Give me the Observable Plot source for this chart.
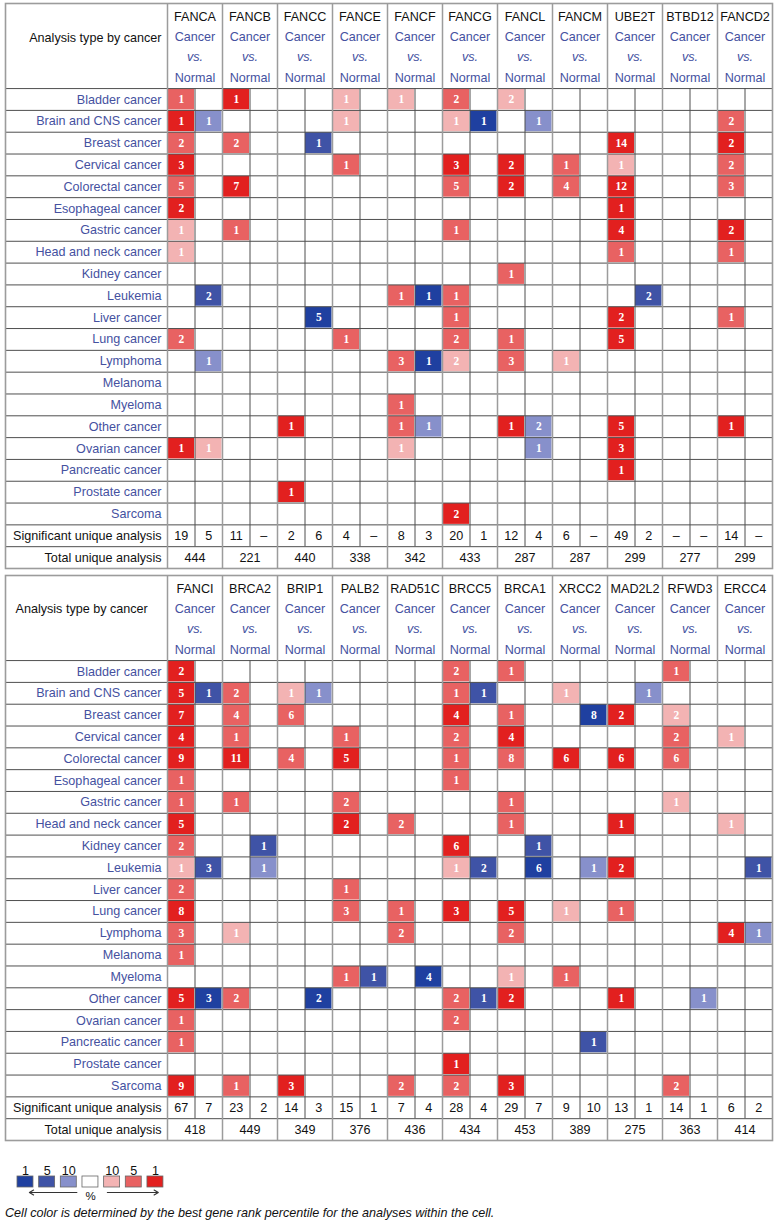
<!DOCTYPE html>
<html>
<head>
<meta charset="utf-8">
<script src="https://cdn.jsdelivr.net/npm/d3@7"></script>
<script src="https://cdn.jsdelivr.net/npm/@observablehq/plot@0.6"></script>
<style>
  body { margin: 0; background: #fff; }
  svg { display: block; }
  #caption { font-family: "Liberation Sans", Arial, sans-serif; font-style: italic; font-size: 12.6px; line-height: 14px; padding-left: 5px; color: #111; }
</style>
</head>
<body>
<div id="chart"></div>
<div id="caption">Cell color is determined by the best gene rank percentile for the analyses within the cell.</div>
<script>
// ---------------- DATA ----------------
const cancers = ["Bladder cancer","Brain and CNS cancer","Breast cancer","Cervical cancer","Colorectal cancer",
  "Esophageal cancer","Gastric cancer","Head and neck cancer","Kidney cancer","Leukemia","Liver cancer",
  "Lung cancer","Lymphoma","Melanoma","Myeloma","Other cancer","Ovarian cancer","Pancreatic cancer",
  "Prostate cancer","Sarcoma"];

const colorKeys = ["b1","b5","b10","w","r10","r5","r1"];
const colorValues = ["#1f40a0","#3f53a6","#8790cb","#ffffff","#f3b3b3","#e86262","#e2201f"];
const legendLabels = ["1","5","10","","10","5","1"];

const topGenes = ["FANCA","FANCB","FANCC","FANCE","FANCF","FANCG","FANCL","FANCM","UBE2T","BTBD12","FANCD2"];
const topSignificant = [[19,5],[11,null],[2,6],[4,null],[8,3],[20,1],[12,4],[6,null],[49,2],[null,null],[14,null]];
const topTotal = [444,221,440,338,342,433,287,287,299,277,299];
// [gene, side (0 = over, 1 = under), cancer, analyses, colour key]
const topCells = [
  ["FANCA",0,"Bladder cancer",1,"r5"],["FANCA",0,"Brain and CNS cancer",1,"r1"],["FANCA",1,"Brain and CNS cancer",1,"b10"],
  ["FANCA",0,"Breast cancer",2,"r5"],["FANCA",0,"Cervical cancer",3,"r1"],["FANCA",0,"Colorectal cancer",5,"r5"],
  ["FANCA",0,"Esophageal cancer",2,"r1"],["FANCA",0,"Gastric cancer",1,"r10"],["FANCA",0,"Head and neck cancer",1,"r10"],
  ["FANCA",1,"Leukemia",2,"b5"],["FANCA",0,"Lung cancer",2,"r5"],["FANCA",1,"Lymphoma",1,"b10"],
  ["FANCA",0,"Ovarian cancer",1,"r1"],["FANCA",1,"Ovarian cancer",1,"r10"],
  ["FANCB",0,"Bladder cancer",1,"r1"],["FANCB",0,"Breast cancer",2,"r5"],["FANCB",0,"Colorectal cancer",7,"r1"],
  ["FANCB",0,"Gastric cancer",1,"r5"],
  ["FANCC",1,"Breast cancer",1,"b5"],["FANCC",1,"Liver cancer",5,"b1"],["FANCC",0,"Other cancer",1,"r1"],
  ["FANCC",0,"Prostate cancer",1,"r1"],
  ["FANCE",0,"Bladder cancer",1,"r10"],["FANCE",0,"Brain and CNS cancer",1,"r10"],["FANCE",0,"Cervical cancer",1,"r5"],
  ["FANCE",0,"Lung cancer",1,"r5"],
  ["FANCF",0,"Bladder cancer",1,"r10"],["FANCF",0,"Leukemia",1,"r5"],["FANCF",1,"Leukemia",1,"b1"],
  ["FANCF",0,"Lymphoma",3,"r5"],["FANCF",1,"Lymphoma",1,"b1"],["FANCF",0,"Myeloma",1,"r5"],
  ["FANCF",0,"Other cancer",1,"r5"],["FANCF",1,"Other cancer",1,"b10"],["FANCF",0,"Ovarian cancer",1,"r10"],
  ["FANCG",0,"Bladder cancer",2,"r5"],["FANCG",0,"Brain and CNS cancer",1,"r10"],["FANCG",1,"Brain and CNS cancer",1,"b1"],
  ["FANCG",0,"Cervical cancer",3,"r1"],["FANCG",0,"Colorectal cancer",5,"r5"],["FANCG",0,"Gastric cancer",1,"r5"],
  ["FANCG",0,"Leukemia",1,"r5"],["FANCG",0,"Liver cancer",1,"r5"],["FANCG",0,"Lung cancer",2,"r5"],
  ["FANCG",0,"Lymphoma",2,"r10"],["FANCG",0,"Sarcoma",2,"r1"],
  ["FANCL",0,"Bladder cancer",2,"r10"],["FANCL",1,"Brain and CNS cancer",1,"b10"],["FANCL",0,"Cervical cancer",2,"r1"],
  ["FANCL",0,"Colorectal cancer",2,"r1"],["FANCL",0,"Kidney cancer",1,"r5"],["FANCL",0,"Lung cancer",1,"r5"],
  ["FANCL",0,"Lymphoma",3,"r5"],["FANCL",0,"Other cancer",1,"r1"],["FANCL",1,"Other cancer",2,"b10"],
  ["FANCL",1,"Ovarian cancer",1,"b10"],
  ["FANCM",0,"Cervical cancer",1,"r5"],["FANCM",0,"Colorectal cancer",4,"r5"],["FANCM",0,"Lymphoma",1,"r10"],
  ["UBE2T",0,"Breast cancer",14,"r1"],["UBE2T",0,"Cervical cancer",1,"r10"],["UBE2T",0,"Colorectal cancer",12,"r1"],
  ["UBE2T",0,"Esophageal cancer",1,"r1"],["UBE2T",0,"Gastric cancer",4,"r1"],["UBE2T",0,"Head and neck cancer",1,"r5"],
  ["UBE2T",1,"Leukemia",2,"b5"],["UBE2T",0,"Liver cancer",2,"r1"],["UBE2T",0,"Lung cancer",5,"r1"],
  ["UBE2T",0,"Other cancer",5,"r1"],["UBE2T",0,"Ovarian cancer",3,"r1"],["UBE2T",0,"Pancreatic cancer",1,"r1"],
  ["FANCD2",0,"Brain and CNS cancer",2,"r5"],["FANCD2",0,"Breast cancer",2,"r1"],["FANCD2",0,"Cervical cancer",2,"r5"],
  ["FANCD2",0,"Colorectal cancer",3,"r5"],["FANCD2",0,"Gastric cancer",2,"r1"],["FANCD2",0,"Head and neck cancer",1,"r5"],
  ["FANCD2",0,"Liver cancer",1,"r5"],["FANCD2",0,"Other cancer",1,"r1"]
];

const bottomGenes = ["FANCI","BRCA2","BRIP1","PALB2","RAD51C","BRCC5","BRCA1","XRCC2","MAD2L2","RFWD3","ERCC4"];
const bottomSignificant = [[67,7],[23,2],[14,3],[15,1],[7,4],[28,4],[29,7],[9,10],[13,1],[14,1],[6,2]];
const bottomTotal = [418,449,349,376,436,434,453,389,275,363,414];
const bottomCells = [
  ["FANCI",0,"Bladder cancer",2,"r1"],["FANCI",0,"Brain and CNS cancer",5,"r1"],["FANCI",1,"Brain and CNS cancer",1,"b5"],
  ["FANCI",0,"Breast cancer",7,"r1"],["FANCI",0,"Cervical cancer",4,"r1"],["FANCI",0,"Colorectal cancer",9,"r1"],
  ["FANCI",0,"Esophageal cancer",1,"r5"],["FANCI",0,"Gastric cancer",1,"r5"],["FANCI",0,"Head and neck cancer",5,"r1"],
  ["FANCI",0,"Kidney cancer",2,"r5"],["FANCI",0,"Leukemia",1,"r10"],["FANCI",1,"Leukemia",3,"b5"],
  ["FANCI",0,"Liver cancer",2,"r5"],["FANCI",0,"Lung cancer",8,"r1"],["FANCI",0,"Lymphoma",3,"r5"],
  ["FANCI",0,"Melanoma",1,"r5"],["FANCI",0,"Other cancer",5,"r1"],["FANCI",1,"Other cancer",3,"b1"],
  ["FANCI",0,"Ovarian cancer",1,"r5"],["FANCI",0,"Pancreatic cancer",1,"r5"],["FANCI",0,"Sarcoma",9,"r1"],
  ["BRCA2",0,"Brain and CNS cancer",2,"r5"],["BRCA2",0,"Breast cancer",4,"r5"],["BRCA2",0,"Cervical cancer",1,"r5"],
  ["BRCA2",0,"Colorectal cancer",11,"r1"],["BRCA2",0,"Gastric cancer",1,"r5"],["BRCA2",1,"Kidney cancer",1,"b5"],
  ["BRCA2",1,"Leukemia",1,"b10"],["BRCA2",0,"Lymphoma",1,"r10"],["BRCA2",0,"Other cancer",2,"r5"],
  ["BRCA2",0,"Sarcoma",1,"r5"],
  ["BRIP1",0,"Brain and CNS cancer",1,"r10"],["BRIP1",1,"Brain and CNS cancer",1,"b10"],["BRIP1",0,"Breast cancer",6,"r5"],
  ["BRIP1",0,"Colorectal cancer",4,"r5"],["BRIP1",1,"Other cancer",2,"b1"],["BRIP1",0,"Sarcoma",3,"r1"],
  ["PALB2",0,"Cervical cancer",1,"r5"],["PALB2",0,"Colorectal cancer",5,"r1"],["PALB2",0,"Gastric cancer",2,"r5"],
  ["PALB2",0,"Head and neck cancer",2,"r1"],["PALB2",0,"Liver cancer",1,"r5"],["PALB2",0,"Lung cancer",3,"r5"],
  ["PALB2",0,"Myeloma",1,"r5"],["PALB2",1,"Myeloma",1,"b5"],
  ["RAD51C",0,"Head and neck cancer",2,"r5"],["RAD51C",0,"Lung cancer",1,"r5"],["RAD51C",0,"Lymphoma",2,"r5"],
  ["RAD51C",1,"Myeloma",4,"b1"],["RAD51C",0,"Sarcoma",2,"r5"],
  ["BRCC5",0,"Bladder cancer",2,"r5"],["BRCC5",0,"Brain and CNS cancer",1,"r5"],["BRCC5",1,"Brain and CNS cancer",1,"b5"],
  ["BRCC5",0,"Breast cancer",4,"r1"],["BRCC5",0,"Cervical cancer",2,"r5"],["BRCC5",0,"Colorectal cancer",1,"r5"],
  ["BRCC5",0,"Esophageal cancer",1,"r5"],["BRCC5",0,"Kidney cancer",6,"r1"],["BRCC5",0,"Leukemia",1,"r10"],
  ["BRCC5",1,"Leukemia",2,"b5"],["BRCC5",0,"Lung cancer",3,"r1"],["BRCC5",0,"Other cancer",2,"r5"],
  ["BRCC5",1,"Other cancer",1,"b5"],["BRCC5",0,"Ovarian cancer",2,"r5"],["BRCC5",0,"Prostate cancer",1,"r1"],
  ["BRCC5",0,"Sarcoma",2,"r5"],
  ["BRCA1",0,"Bladder cancer",1,"r5"],["BRCA1",0,"Breast cancer",1,"r5"],["BRCA1",0,"Cervical cancer",4,"r1"],
  ["BRCA1",0,"Colorectal cancer",8,"r5"],["BRCA1",0,"Gastric cancer",1,"r5"],["BRCA1",0,"Head and neck cancer",1,"r5"],
  ["BRCA1",1,"Kidney cancer",1,"b5"],["BRCA1",1,"Leukemia",6,"b1"],["BRCA1",0,"Lung cancer",5,"r1"],
  ["BRCA1",0,"Lymphoma",2,"r5"],["BRCA1",0,"Myeloma",1,"r10"],["BRCA1",0,"Other cancer",2,"r1"],
  ["BRCA1",0,"Sarcoma",3,"r1"],
  ["XRCC2",0,"Brain and CNS cancer",1,"r10"],["XRCC2",1,"Breast cancer",8,"b1"],["XRCC2",0,"Colorectal cancer",6,"r1"],
  ["XRCC2",1,"Leukemia",1,"b10"],["XRCC2",0,"Lung cancer",1,"r10"],["XRCC2",0,"Myeloma",1,"r5"],
  ["XRCC2",1,"Pancreatic cancer",1,"b5"],
  ["MAD2L2",1,"Brain and CNS cancer",1,"b10"],["MAD2L2",0,"Breast cancer",2,"r1"],["MAD2L2",0,"Colorectal cancer",6,"r1"],
  ["MAD2L2",0,"Head and neck cancer",1,"r1"],["MAD2L2",0,"Leukemia",2,"r1"],["MAD2L2",0,"Lung cancer",1,"r5"],
  ["MAD2L2",0,"Other cancer",1,"r1"],
  ["RFWD3",0,"Bladder cancer",1,"r5"],["RFWD3",0,"Breast cancer",2,"r10"],["RFWD3",0,"Cervical cancer",2,"r5"],
  ["RFWD3",0,"Colorectal cancer",6,"r5"],["RFWD3",0,"Gastric cancer",1,"r10"],["RFWD3",1,"Other cancer",1,"b10"],
  ["RFWD3",0,"Sarcoma",2,"r5"],
  ["ERCC4",0,"Cervical cancer",1,"r10"],["ERCC4",0,"Head and neck cancer",1,"r10"],["ERCC4",1,"Leukemia",1,"b5"],
  ["ERCC4",0,"Lymphoma",4,"r1"],["ERCC4",1,"Lymphoma",1,"b10"]
];

// ---------------- DRAWING ----------------
const SANS = "Liberation Sans, Arial, Helvetica, sans-serif";
const SERIF = "Liberation Serif, Times New Roman, serif";
const BLUE = "#45519f";
const LINE = "#4f4f4f";
const GRAY = "#9c9c9c";
const FS = 12.6;
const LABEL_UNITS = 162 / 27.5;   // width of the label column, in sub-column units
const HEAD_UNITS = 3.9;           // height of the header, in row units
const NROW = cancers.length;      // 20 cancer rows, then significant (20) and total (21)

const colorScale = {type: "ordinal", domain: colorKeys, range: colorValues};

function table(genes, cells, significant, total, titleLeft) {
  const cellData = cells.map(([gene, side, cancer, n, key]) => ({
    col: genes.indexOf(gene) * 2 + side, row: cancers.indexOf(cancer), n, key
  }));
  const sigData = significant.flatMap((pair, g) => pair.map((v, s) => ({col: g * 2 + s, v})));
  const nCols = genes.length * 2;
  return Plot.plot({
    width: 778, height: 572,
    marginLeft: 5, marginRight: 6, marginTop: 3, marginBottom: 4,
    x: {domain: [-LABEL_UNITS, nCols], axis: null},
    y: {domain: [-HEAD_UNITS, NROW + 2], range: [3, 568], axis: null},
    color: colorScale,
    style: {fontFamily: SANS, fontSize: "12px", background: "#fff"},
    marks: [
      Plot.rect(cellData, {x1: "col", x2: d => d.col + 1, y1: "row", y2: d => d.row + 1, fill: "key", inset: 0.5}),
      Plot.ruleY(d3.range(0, NROW + 2), {stroke: LINE, strokeWidth: 1}),
      Plot.ruleX(d3.range(1, nCols, 2), {y1: 0, y2: NROW + 1, stroke: LINE, strokeWidth: 1}),
      Plot.ruleX(d3.range(0, nCols, 2), {stroke: GRAY, strokeWidth: 1.5}),
      Plot.frame({stroke: GRAY, strokeWidth: 1.6}),
      // header
      titleLeft
        ? Plot.text(["Analysis type by cancer"], {x: -LABEL_UNITS, y: -HEAD_UNITS, dx: 10, dy: 33, textAnchor: "start", text: d => d, fill: "#111", fontSize: FS})
        : Plot.text(["Analysis type by cancer"], {x: 0, y: -HEAD_UNITS, dx: -6, dy: 34, textAnchor: "end", text: d => d, fill: "#111", fontSize: FS}),
      Plot.text(genes, {x: (d, i) => i * 2 + 1, y: -HEAD_UNITS, dy: 13, text: d => d, fill: "#111", fontSize: FS}),
      Plot.text(genes, {x: (d, i) => i * 2 + 1, y: -HEAD_UNITS, dy: 33, text: () => "Cancer", fill: BLUE, fontSize: FS}),
      Plot.text(genes, {x: (d, i) => i * 2 + 1, y: -HEAD_UNITS, dy: 53, text: () => "vs.", fill: BLUE, fontSize: FS, fontStyle: "italic"}),
      Plot.text(genes, {x: (d, i) => i * 2 + 1, y: -HEAD_UNITS, dy: 74, text: () => "Normal", fill: BLUE, fontSize: FS}),
      // row labels
      Plot.text(cancers, {x: 0, y: (d, i) => i + 0.5, dx: -6, textAnchor: "end", text: d => d, fill: BLUE, fontSize: FS}),
      Plot.text(["Significant unique analysis", "Total unique analysis"], {x: 0, y: (d, i) => NROW + i + 0.5, dx: -6, textAnchor: "end", text: d => d, fill: "#111", fontSize: FS}),
      // cell counts
      Plot.text(cellData, {x: d => d.col + 0.5, y: d => d.row + 0.5, text: "n", fill: "#fff", fontFamily: SERIF, fontWeight: "bold", fontSize: 11.5}),
      // summary rows
      Plot.text(sigData, {x: d => d.col + 0.5, y: NROW + 0.5, text: d => d.v == null ? "–" : String(d.v), fill: "#111", fontSize: FS}),
      Plot.text(total, {x: (d, i) => i * 2 + 1, y: NROW + 1.5, text: d => String(d), fill: "#111", fontSize: FS})
    ]
  });
}

function legend() {
  const n = colorKeys.length;
  const step = 21.66;
  return Plot.plot({
    width: 778, height: 62,
    marginLeft: 17, marginRight: 778 - 17 - n * step, marginTop: 32, marginBottom: 19,
    x: {domain: [0, n], axis: null},
    y: {domain: [0, 1], axis: null},
    color: colorScale,
    style: {fontFamily: SANS, fontSize: "12px", background: "#fff", overflow: "visible"},
    marks: [
      Plot.rect(colorKeys, {x1: (d, i) => i, x2: (d, i) => i + 1, y1: 0, y2: 1, fill: d => d, insetRight: 5.7, stroke: "#666", strokeWidth: 0.8}),
      Plot.text(legendLabels, {x: (d, i) => i + 0.37, frameAnchor: "top", dy: -10, text: d => d, fill: "#111", fontSize: FS}),
      Plot.arrow([{a: colorKeys.indexOf("b10") + 0.74, b: colorKeys.indexOf("b1") + 0.55}, {a: colorKeys.indexOf("r10") + 0.15, b: colorKeys.indexOf("r1") + 0.5}],
        {x1: "a", x2: "b", y1: 0, y2: 0, dy: 5, stroke: "#333", strokeWidth: 1.2, headLength: 6}),
      Plot.text(["%"], {x: colorKeys.indexOf("w") + 0.37, y: 0, dy: 9, text: d => d, fill: "#111", fontSize: 11.5})
    ]
  });
}

const root = document.getElementById("chart");
root.appendChild(table(topGenes, topCells, topSignificant, topTotal, false));
root.appendChild(table(bottomGenes, bottomCells, bottomSignificant, bottomTotal, true));
root.appendChild(legend());
</script>
</body>
</html>
